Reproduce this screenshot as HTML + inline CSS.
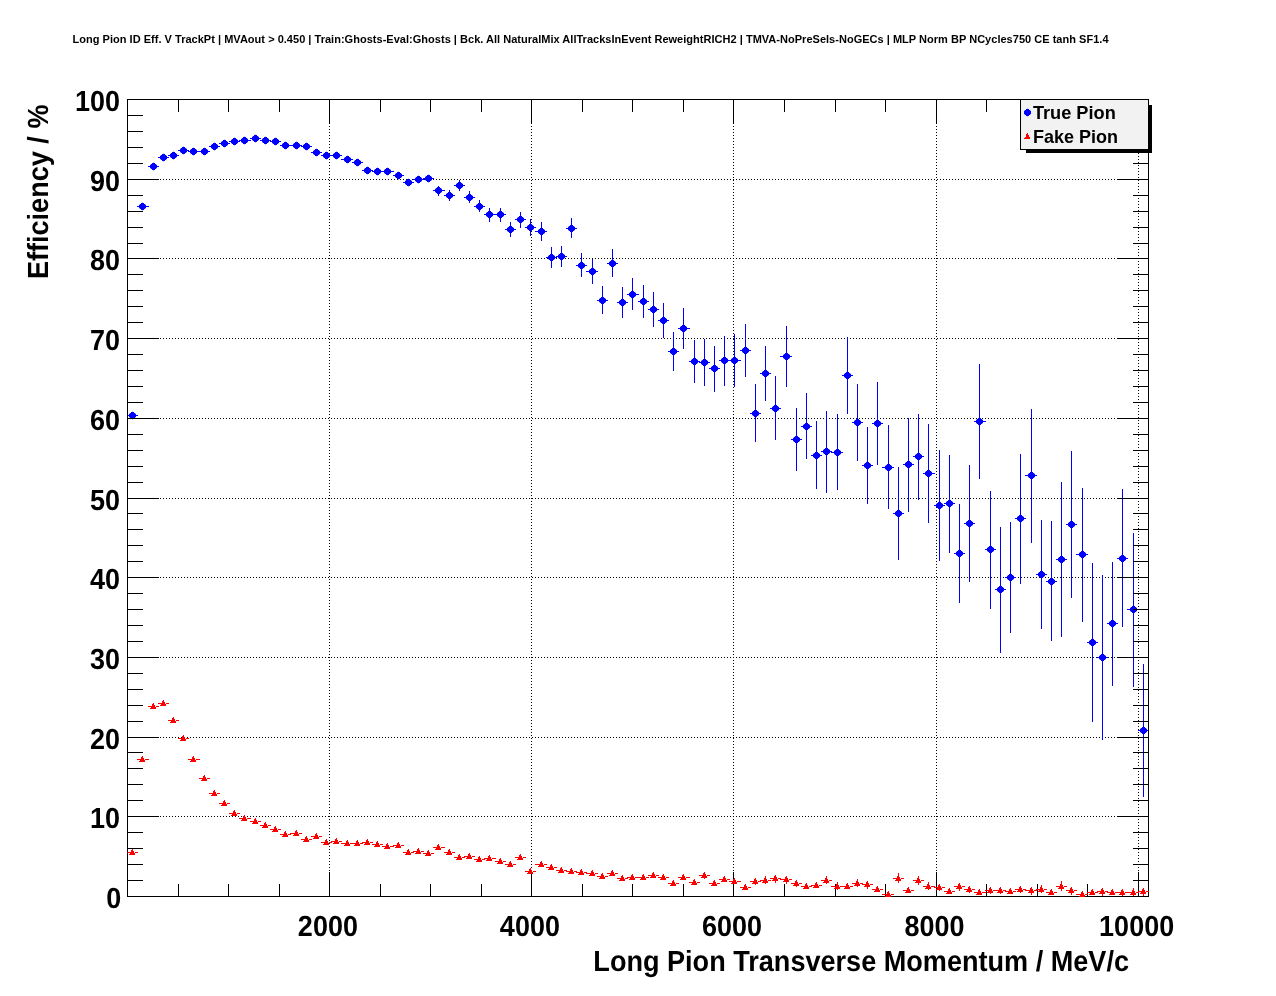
<!DOCTYPE html>
<html lang="en"><head><meta charset="utf-8"><title>Long Pion ID Eff. V TrackPt</title>
<style>
html,body{margin:0;padding:0;background:#fff;}
body{width:1276px;height:996px;overflow:hidden;font-family:"Liberation Sans",Arial,Helvetica,sans-serif;}
svg{display:block;}
</style></head><body>
<svg width="1276" height="996" viewBox="0 0 1276 996">
<defs>
<g id="mc"><path d="M-1 -3h3v1h-3zM-2 -2h5v1h-5zM-3 -1h7v1h-7zM-3 0h7v1h-7zM-3 1h7v1h-7zM-2 2h5v1h-5zM-1 3h3v1h-3z"/><path d="M0 -4h1v1h-1zM0 4h1v1h-1zM-3 -2h1v1h-1zM3 -2h1v1h-1zM-3 2h1v1h-1zM3 2h1v1h-1z" fill-opacity="0.25"/></g>
<path id="mt" d="M0 -3h1v1h-1zM-1 -2h2v1h-2zM-1 -1h3v1h-3zM-1 0h3v1h-3zM-2 1h5v1h-5zM-3 2h6v1h-6z"/>
</defs>
<rect width="1276" height="996" fill="#fff"/>
<g shape-rendering="crispEdges">
<g id="grid" stroke="#000" stroke-width="1" stroke-dasharray="1 2" fill="none">
<line x1="329.5" y1="99" x2="329.5" y2="896"/>
<line x1="531.5" y1="99" x2="531.5" y2="896"/>
<line x1="733.5" y1="99" x2="733.5" y2="896"/>
<line x1="936.5" y1="99" x2="936.5" y2="896"/>
<line x1="1138.5" y1="99" x2="1138.5" y2="896"/>
<line x1="127" y1="816.5" x2="1148" y2="816.5"/>
<line x1="127" y1="737.5" x2="1148" y2="737.5"/>
<line x1="127" y1="657.5" x2="1148" y2="657.5"/>
<line x1="127" y1="577.5" x2="1148" y2="577.5"/>
<line x1="127" y1="498.5" x2="1148" y2="498.5"/>
<line x1="127" y1="418.5" x2="1148" y2="418.5"/>
<line x1="127" y1="338.5" x2="1148" y2="338.5"/>
<line x1="127" y1="258.5" x2="1148" y2="258.5"/>
<line x1="127" y1="179.5" x2="1148" y2="179.5"/>
</g>
<g id="true" fill="#0000ff">
<rect x="127" y="415" width="11" height="1"/>
<use href="#mc" x="132" y="415"/>
<rect x="137" y="206" width="12" height="1"/>
<use href="#mc" x="142" y="206"/>
<rect x="148" y="166" width="11" height="1"/>
<use href="#mc" x="153" y="166"/>
<rect x="158" y="157" width="11" height="1"/>
<use href="#mc" x="163" y="157"/>
<rect x="168" y="155" width="11" height="1"/>
<use href="#mc" x="173" y="155"/>
<rect x="178" y="150" width="11" height="1"/>
<use href="#mc" x="183" y="150"/>
<rect x="188" y="151" width="12" height="1"/>
<use href="#mc" x="193" y="151"/>
<rect x="199" y="151" width="11" height="1"/>
<use href="#mc" x="204" y="151"/>
<rect x="209" y="146" width="11" height="1"/>
<use href="#mc" x="214" y="146"/>
<rect x="219" y="143" width="11" height="1"/>
<use href="#mc" x="224" y="143"/>
<rect x="229" y="141" width="11" height="1"/>
<use href="#mc" x="234" y="141"/>
<rect x="239" y="140" width="12" height="1"/>
<use href="#mc" x="244" y="140"/>
<rect x="250" y="138" width="11" height="1"/>
<use href="#mc" x="255" y="138"/>
<rect x="260" y="140" width="11" height="1"/>
<use href="#mc" x="265" y="140"/>
<rect x="270" y="141" width="11" height="1"/>
<use href="#mc" x="275" y="141"/>
<rect x="280" y="145" width="11" height="1"/>
<use href="#mc" x="285" y="145"/>
<rect x="290" y="145" width="12" height="1"/>
<use href="#mc" x="296" y="145"/>
<rect x="301" y="146" width="11" height="1"/>
<use href="#mc" x="306" y="146"/>
<rect x="311" y="152" width="11" height="1"/>
<use href="#mc" x="316" y="152"/>
<rect x="321" y="155" width="11" height="1"/>
<use href="#mc" x="326" y="155"/>
<rect x="331" y="155" width="11" height="1"/>
<use href="#mc" x="336" y="155"/>
<rect x="341" y="159" width="12" height="1"/>
<use href="#mc" x="347" y="159"/>
<rect x="352" y="162" width="11" height="1"/>
<use href="#mc" x="357" y="162"/>
<rect x="362" y="170" width="11" height="1"/>
<use href="#mc" x="367" y="170"/>
<rect x="372" y="171" width="11" height="1"/>
<use href="#mc" x="377" y="171"/>
<rect x="382" y="171" width="12" height="1"/>
<use href="#mc" x="387" y="171"/>
<rect x="393" y="175" width="11" height="1"/>
<use href="#mc" x="398" y="175"/>
<rect x="403" y="182" width="11" height="1"/>
<use href="#mc" x="408" y="182"/>
<rect x="413" y="179" width="11" height="1"/>
<use href="#mc" x="418" y="179"/>
<rect x="423" y="178" width="11" height="1"/>
<use href="#mc" x="428" y="178"/>
<rect x="433" y="190" width="12" height="1"/>
<rect x="438" y="186" width="1" height="10"/>
<use href="#mc" x="438" y="190"/>
<rect x="444" y="195" width="11" height="1"/>
<rect x="449" y="190" width="1" height="11"/>
<use href="#mc" x="449" y="195"/>
<rect x="454" y="185" width="11" height="1"/>
<rect x="459" y="180" width="1" height="11"/>
<use href="#mc" x="459" y="185"/>
<rect x="464" y="197" width="11" height="1"/>
<rect x="469" y="191" width="1" height="12"/>
<use href="#mc" x="469" y="197"/>
<rect x="474" y="206" width="11" height="1"/>
<rect x="479" y="200" width="1" height="12"/>
<use href="#mc" x="479" y="206"/>
<rect x="484" y="214" width="12" height="1"/>
<rect x="489" y="208" width="1" height="14"/>
<use href="#mc" x="489" y="214"/>
<rect x="495" y="214" width="11" height="1"/>
<rect x="500" y="208" width="1" height="14"/>
<use href="#mc" x="500" y="214"/>
<rect x="505" y="229" width="11" height="1"/>
<rect x="510" y="222" width="1" height="15"/>
<use href="#mc" x="510" y="229"/>
<rect x="515" y="219" width="11" height="1"/>
<rect x="520" y="212" width="1" height="16"/>
<use href="#mc" x="520" y="219"/>
<rect x="525" y="227" width="11" height="1"/>
<rect x="530" y="219" width="1" height="17"/>
<use href="#mc" x="530" y="227"/>
<rect x="535" y="231" width="12" height="1"/>
<rect x="541" y="222" width="1" height="19"/>
<use href="#mc" x="541" y="231"/>
<rect x="546" y="257" width="11" height="1"/>
<rect x="551" y="247" width="1" height="21"/>
<use href="#mc" x="551" y="257"/>
<rect x="556" y="256" width="11" height="1"/>
<rect x="561" y="246" width="1" height="21"/>
<use href="#mc" x="561" y="256"/>
<rect x="566" y="228" width="11" height="1"/>
<rect x="571" y="218" width="1" height="20"/>
<use href="#mc" x="571" y="228"/>
<rect x="576" y="265" width="11" height="1"/>
<rect x="581" y="253" width="1" height="24"/>
<use href="#mc" x="581" y="265"/>
<rect x="586" y="271" width="12" height="1"/>
<rect x="592" y="259" width="1" height="25"/>
<use href="#mc" x="592" y="271"/>
<rect x="597" y="300" width="11" height="1"/>
<rect x="602" y="286" width="1" height="28"/>
<use href="#mc" x="602" y="300"/>
<rect x="607" y="263" width="11" height="1"/>
<rect x="612" y="249" width="1" height="28"/>
<use href="#mc" x="612" y="263"/>
<rect x="617" y="302" width="11" height="1"/>
<rect x="622" y="287" width="1" height="31"/>
<use href="#mc" x="622" y="302"/>
<rect x="627" y="294" width="12" height="1"/>
<rect x="632" y="278" width="1" height="32"/>
<use href="#mc" x="632" y="294"/>
<rect x="638" y="301" width="11" height="1"/>
<rect x="643" y="285" width="1" height="33"/>
<use href="#mc" x="643" y="301"/>
<rect x="648" y="309" width="11" height="1"/>
<rect x="653" y="292" width="1" height="35"/>
<use href="#mc" x="653" y="309"/>
<rect x="658" y="320" width="11" height="1"/>
<rect x="663" y="303" width="1" height="35"/>
<use href="#mc" x="663" y="320"/>
<rect x="668" y="351" width="11" height="1"/>
<rect x="673" y="332" width="1" height="39"/>
<use href="#mc" x="673" y="351"/>
<rect x="678" y="328" width="12" height="1"/>
<rect x="683" y="308" width="1" height="41"/>
<use href="#mc" x="683" y="328"/>
<rect x="689" y="361" width="11" height="1"/>
<rect x="694" y="340" width="1" height="43"/>
<use href="#mc" x="694" y="361"/>
<rect x="699" y="362" width="11" height="1"/>
<rect x="704" y="339" width="1" height="47"/>
<use href="#mc" x="704" y="362"/>
<rect x="709" y="368" width="11" height="1"/>
<rect x="714" y="346" width="1" height="46"/>
<use href="#mc" x="714" y="368"/>
<rect x="719" y="360" width="11" height="1"/>
<rect x="724" y="336" width="1" height="50"/>
<use href="#mc" x="724" y="360"/>
<rect x="729" y="360" width="12" height="1"/>
<rect x="734" y="334" width="1" height="53"/>
<use href="#mc" x="734" y="360"/>
<rect x="740" y="350" width="11" height="1"/>
<rect x="745" y="324" width="1" height="53"/>
<use href="#mc" x="745" y="350"/>
<rect x="750" y="413" width="11" height="1"/>
<rect x="755" y="384" width="1" height="58"/>
<use href="#mc" x="755" y="413"/>
<rect x="760" y="373" width="11" height="1"/>
<rect x="765" y="346" width="1" height="55"/>
<use href="#mc" x="765" y="373"/>
<rect x="770" y="408" width="11" height="1"/>
<rect x="775" y="376" width="1" height="64"/>
<use href="#mc" x="775" y="408"/>
<rect x="780" y="356" width="12" height="1"/>
<rect x="786" y="326" width="1" height="61"/>
<use href="#mc" x="786" y="356"/>
<rect x="791" y="439" width="11" height="1"/>
<rect x="796" y="408" width="1" height="63"/>
<use href="#mc" x="796" y="439"/>
<rect x="801" y="426" width="11" height="1"/>
<rect x="806" y="393" width="1" height="66"/>
<use href="#mc" x="806" y="426"/>
<rect x="811" y="455" width="11" height="1"/>
<rect x="816" y="421" width="1" height="68"/>
<use href="#mc" x="816" y="455"/>
<rect x="821" y="451" width="11" height="1"/>
<rect x="826" y="411" width="1" height="82"/>
<use href="#mc" x="826" y="451"/>
<rect x="831" y="452" width="12" height="1"/>
<rect x="837" y="414" width="1" height="76"/>
<use href="#mc" x="837" y="452"/>
<rect x="842" y="375" width="11" height="1"/>
<rect x="847" y="337" width="1" height="77"/>
<use href="#mc" x="847" y="375"/>
<rect x="852" y="422" width="11" height="1"/>
<rect x="857" y="384" width="1" height="77"/>
<use href="#mc" x="857" y="422"/>
<rect x="862" y="465" width="11" height="1"/>
<rect x="867" y="427" width="1" height="77"/>
<use href="#mc" x="867" y="465"/>
<rect x="872" y="423" width="11" height="1"/>
<rect x="877" y="382" width="1" height="83"/>
<use href="#mc" x="877" y="423"/>
<rect x="882" y="467" width="12" height="1"/>
<rect x="888" y="425" width="1" height="84"/>
<use href="#mc" x="888" y="467"/>
<rect x="893" y="513" width="11" height="1"/>
<rect x="898" y="467" width="1" height="93"/>
<use href="#mc" x="898" y="513"/>
<rect x="903" y="464" width="11" height="1"/>
<rect x="908" y="418" width="1" height="94"/>
<use href="#mc" x="908" y="464"/>
<rect x="913" y="456" width="11" height="1"/>
<rect x="918" y="414" width="1" height="86"/>
<use href="#mc" x="918" y="456"/>
<rect x="923" y="473" width="12" height="1"/>
<rect x="928" y="424" width="1" height="99"/>
<use href="#mc" x="928" y="473"/>
<rect x="934" y="505" width="11" height="1"/>
<rect x="939" y="450" width="1" height="111"/>
<use href="#mc" x="939" y="505"/>
<rect x="944" y="503" width="11" height="1"/>
<rect x="949" y="455" width="1" height="98"/>
<use href="#mc" x="949" y="503"/>
<rect x="954" y="553" width="11" height="1"/>
<rect x="959" y="504" width="1" height="99"/>
<use href="#mc" x="959" y="553"/>
<rect x="964" y="523" width="11" height="1"/>
<rect x="969" y="465" width="1" height="117"/>
<use href="#mc" x="969" y="523"/>
<rect x="974" y="421" width="12" height="1"/>
<rect x="979" y="364" width="1" height="115"/>
<use href="#mc" x="979" y="421"/>
<rect x="985" y="549" width="11" height="1"/>
<rect x="990" y="491" width="1" height="118"/>
<use href="#mc" x="990" y="549"/>
<rect x="995" y="589" width="11" height="1"/>
<rect x="1000" y="527" width="1" height="126"/>
<use href="#mc" x="1000" y="589"/>
<rect x="1005" y="577" width="11" height="1"/>
<rect x="1010" y="522" width="1" height="111"/>
<use href="#mc" x="1010" y="577"/>
<rect x="1015" y="518" width="11" height="1"/>
<rect x="1020" y="454" width="1" height="130"/>
<use href="#mc" x="1020" y="518"/>
<rect x="1025" y="475" width="12" height="1"/>
<rect x="1031" y="409" width="1" height="134"/>
<use href="#mc" x="1031" y="475"/>
<rect x="1036" y="574" width="11" height="1"/>
<rect x="1041" y="520" width="1" height="109"/>
<use href="#mc" x="1041" y="574"/>
<rect x="1046" y="581" width="11" height="1"/>
<rect x="1051" y="521" width="1" height="120"/>
<use href="#mc" x="1051" y="581"/>
<rect x="1056" y="559" width="11" height="1"/>
<rect x="1061" y="482" width="1" height="155"/>
<use href="#mc" x="1061" y="559"/>
<rect x="1066" y="524" width="11" height="1"/>
<rect x="1071" y="451" width="1" height="147"/>
<use href="#mc" x="1071" y="524"/>
<rect x="1076" y="554" width="12" height="1"/>
<rect x="1082" y="488" width="1" height="134"/>
<use href="#mc" x="1082" y="554"/>
<rect x="1087" y="642" width="11" height="1"/>
<rect x="1092" y="563" width="1" height="159"/>
<use href="#mc" x="1092" y="642"/>
<rect x="1097" y="657" width="11" height="1"/>
<rect x="1102" y="575" width="1" height="165"/>
<use href="#mc" x="1102" y="657"/>
<rect x="1107" y="623" width="11" height="1"/>
<rect x="1112" y="562" width="1" height="124"/>
<use href="#mc" x="1112" y="623"/>
<rect x="1117" y="558" width="11" height="1"/>
<rect x="1122" y="489" width="1" height="138"/>
<use href="#mc" x="1122" y="558"/>
<rect x="1127" y="609" width="12" height="1"/>
<rect x="1133" y="533" width="1" height="154"/>
<use href="#mc" x="1133" y="609"/>
<rect x="1138" y="730" width="11" height="1"/>
<rect x="1143" y="664" width="1" height="133"/>
<use href="#mc" x="1143" y="730"/>
</g>
<g id="axes" fill="#000">
<rect x="127" y="99" width="1022" height="1"/>
<rect x="127" y="896" width="1022" height="1"/>
<rect x="127" y="99" width="1" height="798"/>
<rect x="1148" y="99" width="1" height="798"/>
<rect x="178" y="884" width="1" height="13"/>
<rect x="178" y="99" width="1" height="13"/>
<rect x="228" y="884" width="1" height="13"/>
<rect x="228" y="99" width="1" height="13"/>
<rect x="279" y="884" width="1" height="13"/>
<rect x="279" y="99" width="1" height="13"/>
<rect x="329" y="872" width="1" height="25"/>
<rect x="329" y="99" width="1" height="25"/>
<rect x="380" y="884" width="1" height="13"/>
<rect x="380" y="99" width="1" height="13"/>
<rect x="430" y="884" width="1" height="13"/>
<rect x="430" y="99" width="1" height="13"/>
<rect x="481" y="884" width="1" height="13"/>
<rect x="481" y="99" width="1" height="13"/>
<rect x="531" y="872" width="1" height="25"/>
<rect x="531" y="99" width="1" height="25"/>
<rect x="582" y="884" width="1" height="13"/>
<rect x="582" y="99" width="1" height="13"/>
<rect x="632" y="884" width="1" height="13"/>
<rect x="632" y="99" width="1" height="13"/>
<rect x="683" y="884" width="1" height="13"/>
<rect x="683" y="99" width="1" height="13"/>
<rect x="733" y="872" width="1" height="25"/>
<rect x="733" y="99" width="1" height="25"/>
<rect x="784" y="884" width="1" height="13"/>
<rect x="784" y="99" width="1" height="13"/>
<rect x="835" y="884" width="1" height="13"/>
<rect x="835" y="99" width="1" height="13"/>
<rect x="885" y="884" width="1" height="13"/>
<rect x="885" y="99" width="1" height="13"/>
<rect x="936" y="872" width="1" height="25"/>
<rect x="936" y="99" width="1" height="25"/>
<rect x="986" y="884" width="1" height="13"/>
<rect x="986" y="99" width="1" height="13"/>
<rect x="1037" y="884" width="1" height="13"/>
<rect x="1037" y="99" width="1" height="13"/>
<rect x="1087" y="884" width="1" height="13"/>
<rect x="1087" y="99" width="1" height="13"/>
<rect x="1138" y="872" width="1" height="25"/>
<rect x="1138" y="99" width="1" height="25"/>
<rect x="127" y="896" width="32" height="1"/>
<rect x="1117" y="896" width="32" height="1"/>
<rect x="127" y="880" width="16" height="1"/>
<rect x="1133" y="880" width="16" height="1"/>
<rect x="127" y="864" width="16" height="1"/>
<rect x="1133" y="864" width="16" height="1"/>
<rect x="127" y="848" width="16" height="1"/>
<rect x="1133" y="848" width="16" height="1"/>
<rect x="127" y="832" width="16" height="1"/>
<rect x="1133" y="832" width="16" height="1"/>
<rect x="127" y="816" width="32" height="1"/>
<rect x="1117" y="816" width="32" height="1"/>
<rect x="127" y="800" width="16" height="1"/>
<rect x="1133" y="800" width="16" height="1"/>
<rect x="127" y="784" width="16" height="1"/>
<rect x="1133" y="784" width="16" height="1"/>
<rect x="127" y="768" width="16" height="1"/>
<rect x="1133" y="768" width="16" height="1"/>
<rect x="127" y="752" width="16" height="1"/>
<rect x="1133" y="752" width="16" height="1"/>
<rect x="127" y="737" width="32" height="1"/>
<rect x="1117" y="737" width="32" height="1"/>
<rect x="127" y="721" width="16" height="1"/>
<rect x="1133" y="721" width="16" height="1"/>
<rect x="127" y="705" width="16" height="1"/>
<rect x="1133" y="705" width="16" height="1"/>
<rect x="127" y="689" width="16" height="1"/>
<rect x="1133" y="689" width="16" height="1"/>
<rect x="127" y="673" width="16" height="1"/>
<rect x="1133" y="673" width="16" height="1"/>
<rect x="127" y="657" width="32" height="1"/>
<rect x="1117" y="657" width="32" height="1"/>
<rect x="127" y="641" width="16" height="1"/>
<rect x="1133" y="641" width="16" height="1"/>
<rect x="127" y="625" width="16" height="1"/>
<rect x="1133" y="625" width="16" height="1"/>
<rect x="127" y="609" width="16" height="1"/>
<rect x="1133" y="609" width="16" height="1"/>
<rect x="127" y="593" width="16" height="1"/>
<rect x="1133" y="593" width="16" height="1"/>
<rect x="127" y="577" width="32" height="1"/>
<rect x="1117" y="577" width="32" height="1"/>
<rect x="127" y="561" width="16" height="1"/>
<rect x="1133" y="561" width="16" height="1"/>
<rect x="127" y="545" width="16" height="1"/>
<rect x="1133" y="545" width="16" height="1"/>
<rect x="127" y="529" width="16" height="1"/>
<rect x="1133" y="529" width="16" height="1"/>
<rect x="127" y="513" width="16" height="1"/>
<rect x="1133" y="513" width="16" height="1"/>
<rect x="127" y="498" width="32" height="1"/>
<rect x="1117" y="498" width="32" height="1"/>
<rect x="127" y="482" width="16" height="1"/>
<rect x="1133" y="482" width="16" height="1"/>
<rect x="127" y="466" width="16" height="1"/>
<rect x="1133" y="466" width="16" height="1"/>
<rect x="127" y="450" width="16" height="1"/>
<rect x="1133" y="450" width="16" height="1"/>
<rect x="127" y="434" width="16" height="1"/>
<rect x="1133" y="434" width="16" height="1"/>
<rect x="127" y="418" width="32" height="1"/>
<rect x="1117" y="418" width="32" height="1"/>
<rect x="127" y="402" width="16" height="1"/>
<rect x="1133" y="402" width="16" height="1"/>
<rect x="127" y="386" width="16" height="1"/>
<rect x="1133" y="386" width="16" height="1"/>
<rect x="127" y="370" width="16" height="1"/>
<rect x="1133" y="370" width="16" height="1"/>
<rect x="127" y="354" width="16" height="1"/>
<rect x="1133" y="354" width="16" height="1"/>
<rect x="127" y="338" width="32" height="1"/>
<rect x="1117" y="338" width="32" height="1"/>
<rect x="127" y="322" width="16" height="1"/>
<rect x="1133" y="322" width="16" height="1"/>
<rect x="127" y="306" width="16" height="1"/>
<rect x="1133" y="306" width="16" height="1"/>
<rect x="127" y="290" width="16" height="1"/>
<rect x="1133" y="290" width="16" height="1"/>
<rect x="127" y="274" width="16" height="1"/>
<rect x="1133" y="274" width="16" height="1"/>
<rect x="127" y="258" width="32" height="1"/>
<rect x="1117" y="258" width="32" height="1"/>
<rect x="127" y="243" width="16" height="1"/>
<rect x="1133" y="243" width="16" height="1"/>
<rect x="127" y="227" width="16" height="1"/>
<rect x="1133" y="227" width="16" height="1"/>
<rect x="127" y="211" width="16" height="1"/>
<rect x="1133" y="211" width="16" height="1"/>
<rect x="127" y="195" width="16" height="1"/>
<rect x="1133" y="195" width="16" height="1"/>
<rect x="127" y="179" width="32" height="1"/>
<rect x="1117" y="179" width="32" height="1"/>
<rect x="127" y="163" width="16" height="1"/>
<rect x="1133" y="163" width="16" height="1"/>
<rect x="127" y="147" width="16" height="1"/>
<rect x="1133" y="147" width="16" height="1"/>
<rect x="127" y="131" width="16" height="1"/>
<rect x="1133" y="131" width="16" height="1"/>
<rect x="127" y="115" width="16" height="1"/>
<rect x="1133" y="115" width="16" height="1"/>
<rect x="127" y="99" width="32" height="1"/>
<rect x="1117" y="99" width="32" height="1"/>
</g>
<g id="fake" fill="#ff0000">
<rect x="127" y="852" width="7" height="1"/>
<rect x="135" y="852" width="3" height="1"/>
<use href="#mt" x="132" y="852"/>
<rect x="137" y="759" width="7" height="1"/>
<rect x="145" y="759" width="4" height="1"/>
<use href="#mt" x="142" y="759"/>
<rect x="148" y="706" width="7" height="1"/>
<rect x="156" y="706" width="3" height="1"/>
<use href="#mt" x="153" y="706"/>
<rect x="158" y="703" width="7" height="1"/>
<rect x="166" y="703" width="3" height="1"/>
<use href="#mt" x="163" y="703"/>
<rect x="168" y="720" width="7" height="1"/>
<rect x="176" y="720" width="3" height="1"/>
<use href="#mt" x="173" y="720"/>
<rect x="178" y="738" width="7" height="1"/>
<rect x="186" y="738" width="3" height="1"/>
<use href="#mt" x="183" y="738"/>
<rect x="188" y="759" width="7" height="1"/>
<rect x="196" y="759" width="4" height="1"/>
<use href="#mt" x="193" y="759"/>
<rect x="199" y="778" width="7" height="1"/>
<rect x="207" y="778" width="3" height="1"/>
<use href="#mt" x="204" y="778"/>
<rect x="209" y="793" width="7" height="1"/>
<rect x="217" y="793" width="3" height="1"/>
<use href="#mt" x="214" y="793"/>
<rect x="219" y="803" width="7" height="1"/>
<rect x="227" y="803" width="3" height="1"/>
<use href="#mt" x="224" y="803"/>
<rect x="229" y="813" width="7" height="1"/>
<rect x="237" y="813" width="3" height="1"/>
<use href="#mt" x="234" y="813"/>
<rect x="239" y="818" width="7" height="1"/>
<rect x="247" y="818" width="4" height="1"/>
<use href="#mt" x="244" y="818"/>
<rect x="250" y="821" width="7" height="1"/>
<rect x="258" y="821" width="3" height="1"/>
<use href="#mt" x="255" y="821"/>
<rect x="260" y="825" width="7" height="1"/>
<rect x="268" y="825" width="3" height="1"/>
<use href="#mt" x="265" y="825"/>
<rect x="270" y="829" width="7" height="1"/>
<rect x="278" y="829" width="3" height="1"/>
<use href="#mt" x="275" y="829"/>
<rect x="280" y="834" width="7" height="1"/>
<rect x="288" y="834" width="3" height="1"/>
<use href="#mt" x="285" y="834"/>
<rect x="290" y="833" width="8" height="1"/>
<rect x="299" y="833" width="3" height="1"/>
<use href="#mt" x="296" y="833"/>
<rect x="301" y="839" width="7" height="1"/>
<rect x="309" y="839" width="3" height="1"/>
<use href="#mt" x="306" y="839"/>
<rect x="311" y="836" width="7" height="1"/>
<rect x="319" y="836" width="3" height="1"/>
<use href="#mt" x="316" y="836"/>
<rect x="321" y="842" width="7" height="1"/>
<rect x="329" y="842" width="3" height="1"/>
<use href="#mt" x="326" y="842"/>
<rect x="331" y="841" width="7" height="1"/>
<rect x="339" y="841" width="3" height="1"/>
<use href="#mt" x="336" y="841"/>
<rect x="341" y="843" width="8" height="1"/>
<rect x="350" y="843" width="3" height="1"/>
<use href="#mt" x="347" y="843"/>
<rect x="352" y="843" width="7" height="1"/>
<rect x="360" y="843" width="3" height="1"/>
<use href="#mt" x="357" y="843"/>
<rect x="362" y="842" width="7" height="1"/>
<rect x="370" y="842" width="3" height="1"/>
<use href="#mt" x="367" y="842"/>
<rect x="372" y="844" width="7" height="1"/>
<rect x="380" y="844" width="3" height="1"/>
<use href="#mt" x="377" y="844"/>
<rect x="382" y="846" width="7" height="1"/>
<rect x="390" y="846" width="4" height="1"/>
<use href="#mt" x="387" y="846"/>
<rect x="393" y="845" width="7" height="1"/>
<rect x="401" y="845" width="3" height="1"/>
<use href="#mt" x="398" y="845"/>
<rect x="403" y="852" width="7" height="1"/>
<rect x="411" y="852" width="3" height="1"/>
<use href="#mt" x="408" y="852"/>
<rect x="413" y="851" width="7" height="1"/>
<rect x="421" y="851" width="3" height="1"/>
<use href="#mt" x="418" y="851"/>
<rect x="423" y="853" width="7" height="1"/>
<rect x="431" y="853" width="3" height="1"/>
<use href="#mt" x="428" y="853"/>
<rect x="433" y="847" width="7" height="1"/>
<rect x="441" y="847" width="4" height="1"/>
<use href="#mt" x="438" y="847"/>
<rect x="444" y="852" width="7" height="1"/>
<rect x="452" y="852" width="3" height="1"/>
<use href="#mt" x="449" y="852"/>
<rect x="454" y="857" width="7" height="1"/>
<rect x="462" y="857" width="3" height="1"/>
<use href="#mt" x="459" y="857"/>
<rect x="464" y="856" width="7" height="1"/>
<rect x="472" y="856" width="3" height="1"/>
<use href="#mt" x="469" y="856"/>
<rect x="474" y="859" width="7" height="1"/>
<rect x="482" y="859" width="3" height="1"/>
<use href="#mt" x="479" y="859"/>
<rect x="484" y="858" width="7" height="1"/>
<rect x="492" y="858" width="4" height="1"/>
<use href="#mt" x="489" y="858"/>
<rect x="495" y="861" width="7" height="1"/>
<rect x="503" y="861" width="3" height="1"/>
<use href="#mt" x="500" y="861"/>
<rect x="505" y="864" width="7" height="1"/>
<rect x="513" y="864" width="3" height="1"/>
<use href="#mt" x="510" y="864"/>
<rect x="515" y="857" width="7" height="1"/>
<rect x="523" y="857" width="3" height="1"/>
<use href="#mt" x="520" y="857"/>
<rect x="525" y="871" width="7" height="1"/>
<rect x="533" y="871" width="3" height="1"/>
<use href="#mt" x="530" y="871"/>
<rect x="535" y="864" width="8" height="1"/>
<rect x="544" y="864" width="3" height="1"/>
<use href="#mt" x="541" y="864"/>
<rect x="546" y="867" width="7" height="1"/>
<rect x="554" y="867" width="3" height="1"/>
<use href="#mt" x="551" y="867"/>
<rect x="556" y="870" width="7" height="1"/>
<rect x="564" y="870" width="3" height="1"/>
<use href="#mt" x="561" y="870"/>
<rect x="566" y="871" width="7" height="1"/>
<rect x="574" y="871" width="3" height="1"/>
<use href="#mt" x="571" y="871"/>
<rect x="576" y="872" width="7" height="1"/>
<rect x="584" y="872" width="3" height="1"/>
<use href="#mt" x="581" y="872"/>
<rect x="586" y="873" width="8" height="1"/>
<rect x="595" y="873" width="3" height="1"/>
<use href="#mt" x="592" y="873"/>
<rect x="597" y="876" width="7" height="1"/>
<rect x="605" y="876" width="3" height="1"/>
<use href="#mt" x="602" y="876"/>
<rect x="607" y="873" width="7" height="1"/>
<rect x="615" y="873" width="3" height="1"/>
<use href="#mt" x="612" y="873"/>
<rect x="617" y="878" width="7" height="1"/>
<rect x="625" y="878" width="3" height="1"/>
<use href="#mt" x="622" y="878"/>
<rect x="627" y="877" width="7" height="1"/>
<rect x="635" y="877" width="4" height="1"/>
<use href="#mt" x="632" y="877"/>
<rect x="638" y="877" width="7" height="1"/>
<rect x="646" y="877" width="3" height="1"/>
<use href="#mt" x="643" y="877"/>
<rect x="648" y="875" width="7" height="1"/>
<rect x="656" y="875" width="3" height="1"/>
<use href="#mt" x="653" y="875"/>
<rect x="658" y="877" width="7" height="1"/>
<rect x="666" y="877" width="3" height="1"/>
<use href="#mt" x="663" y="877"/>
<rect x="668" y="883" width="7" height="1"/>
<rect x="676" y="883" width="3" height="1"/>
<use href="#mt" x="673" y="883"/>
<rect x="678" y="877" width="7" height="1"/>
<rect x="686" y="877" width="4" height="1"/>
<use href="#mt" x="683" y="877"/>
<rect x="689" y="882" width="7" height="1"/>
<rect x="697" y="882" width="3" height="1"/>
<use href="#mt" x="694" y="882"/>
<rect x="699" y="875" width="7" height="1"/>
<rect x="707" y="875" width="3" height="1"/>
<rect x="704" y="872" width="1" height="7"/>
<use href="#mt" x="704" y="875"/>
<rect x="709" y="883" width="7" height="1"/>
<rect x="717" y="883" width="3" height="1"/>
<use href="#mt" x="714" y="883"/>
<rect x="719" y="879" width="7" height="1"/>
<rect x="727" y="879" width="3" height="1"/>
<use href="#mt" x="724" y="879"/>
<rect x="729" y="881" width="7" height="1"/>
<rect x="737" y="881" width="4" height="1"/>
<use href="#mt" x="734" y="881"/>
<rect x="740" y="887" width="7" height="1"/>
<rect x="748" y="887" width="3" height="1"/>
<use href="#mt" x="745" y="887"/>
<rect x="750" y="881" width="7" height="1"/>
<rect x="758" y="881" width="3" height="1"/>
<rect x="755" y="878" width="1" height="7"/>
<use href="#mt" x="755" y="881"/>
<rect x="760" y="880" width="7" height="1"/>
<rect x="768" y="880" width="3" height="1"/>
<rect x="765" y="876" width="1" height="8"/>
<use href="#mt" x="765" y="880"/>
<rect x="770" y="878" width="7" height="1"/>
<rect x="778" y="878" width="3" height="1"/>
<rect x="775" y="875" width="1" height="8"/>
<use href="#mt" x="775" y="878"/>
<rect x="780" y="879" width="8" height="1"/>
<rect x="789" y="879" width="3" height="1"/>
<rect x="786" y="876" width="1" height="8"/>
<use href="#mt" x="786" y="879"/>
<rect x="791" y="883" width="7" height="1"/>
<rect x="799" y="883" width="3" height="1"/>
<rect x="796" y="880" width="1" height="7"/>
<use href="#mt" x="796" y="883"/>
<rect x="801" y="886" width="7" height="1"/>
<rect x="809" y="886" width="3" height="1"/>
<use href="#mt" x="806" y="886"/>
<rect x="811" y="885" width="7" height="1"/>
<rect x="819" y="885" width="3" height="1"/>
<use href="#mt" x="816" y="885"/>
<rect x="821" y="880" width="7" height="1"/>
<rect x="829" y="880" width="3" height="1"/>
<rect x="826" y="876" width="1" height="8"/>
<use href="#mt" x="826" y="880"/>
<rect x="831" y="886" width="8" height="1"/>
<rect x="840" y="886" width="3" height="1"/>
<rect x="837" y="882" width="1" height="8"/>
<use href="#mt" x="837" y="886"/>
<rect x="842" y="886" width="7" height="1"/>
<rect x="850" y="886" width="3" height="1"/>
<use href="#mt" x="847" y="886"/>
<rect x="852" y="883" width="7" height="1"/>
<rect x="860" y="883" width="3" height="1"/>
<rect x="857" y="879" width="1" height="8"/>
<use href="#mt" x="857" y="883"/>
<rect x="862" y="884" width="7" height="1"/>
<rect x="870" y="884" width="3" height="1"/>
<rect x="867" y="881" width="1" height="8"/>
<use href="#mt" x="867" y="884"/>
<rect x="872" y="889" width="7" height="1"/>
<rect x="880" y="889" width="3" height="1"/>
<use href="#mt" x="877" y="889"/>
<rect x="882" y="894" width="8" height="1"/>
<rect x="891" y="894" width="3" height="1"/>
<use href="#mt" x="888" y="894"/>
<rect x="893" y="878" width="7" height="1"/>
<rect x="901" y="878" width="3" height="1"/>
<rect x="898" y="873" width="1" height="10"/>
<use href="#mt" x="898" y="878"/>
<rect x="903" y="890" width="7" height="1"/>
<rect x="911" y="890" width="3" height="1"/>
<use href="#mt" x="908" y="890"/>
<rect x="913" y="880" width="7" height="1"/>
<rect x="921" y="880" width="3" height="1"/>
<rect x="918" y="876" width="1" height="9"/>
<use href="#mt" x="918" y="880"/>
<rect x="923" y="886" width="7" height="1"/>
<rect x="931" y="886" width="4" height="1"/>
<rect x="928" y="882" width="1" height="8"/>
<use href="#mt" x="928" y="886"/>
<rect x="934" y="887" width="7" height="1"/>
<rect x="942" y="887" width="3" height="1"/>
<rect x="939" y="884" width="1" height="7"/>
<use href="#mt" x="939" y="887"/>
<rect x="944" y="891" width="7" height="1"/>
<rect x="952" y="891" width="3" height="1"/>
<use href="#mt" x="949" y="891"/>
<rect x="954" y="886" width="7" height="1"/>
<rect x="962" y="886" width="3" height="1"/>
<rect x="959" y="883" width="1" height="8"/>
<use href="#mt" x="959" y="886"/>
<rect x="964" y="889" width="7" height="1"/>
<rect x="972" y="889" width="3" height="1"/>
<rect x="969" y="886" width="1" height="7"/>
<use href="#mt" x="969" y="889"/>
<rect x="974" y="892" width="7" height="1"/>
<rect x="982" y="892" width="4" height="1"/>
<use href="#mt" x="979" y="892"/>
<rect x="985" y="890" width="7" height="1"/>
<rect x="993" y="890" width="3" height="1"/>
<rect x="990" y="887" width="1" height="7"/>
<use href="#mt" x="990" y="890"/>
<rect x="995" y="890" width="7" height="1"/>
<rect x="1003" y="890" width="3" height="1"/>
<rect x="1000" y="887" width="1" height="7"/>
<use href="#mt" x="1000" y="890"/>
<rect x="1005" y="891" width="7" height="1"/>
<rect x="1013" y="891" width="3" height="1"/>
<use href="#mt" x="1010" y="891"/>
<rect x="1015" y="889" width="7" height="1"/>
<rect x="1023" y="889" width="3" height="1"/>
<rect x="1020" y="886" width="1" height="7"/>
<use href="#mt" x="1020" y="889"/>
<rect x="1025" y="890" width="8" height="1"/>
<rect x="1034" y="890" width="3" height="1"/>
<rect x="1031" y="887" width="1" height="8"/>
<use href="#mt" x="1031" y="890"/>
<rect x="1036" y="889" width="7" height="1"/>
<rect x="1044" y="889" width="3" height="1"/>
<rect x="1041" y="885" width="1" height="8"/>
<use href="#mt" x="1041" y="889"/>
<rect x="1046" y="892" width="7" height="1"/>
<rect x="1054" y="892" width="3" height="1"/>
<use href="#mt" x="1051" y="892"/>
<rect x="1056" y="886" width="7" height="1"/>
<rect x="1064" y="886" width="3" height="1"/>
<rect x="1061" y="881" width="1" height="10"/>
<use href="#mt" x="1061" y="886"/>
<rect x="1066" y="890" width="7" height="1"/>
<rect x="1074" y="890" width="3" height="1"/>
<rect x="1071" y="887" width="1" height="8"/>
<use href="#mt" x="1071" y="890"/>
<rect x="1076" y="894" width="8" height="1"/>
<rect x="1085" y="894" width="3" height="1"/>
<use href="#mt" x="1082" y="894"/>
<rect x="1087" y="892" width="7" height="1"/>
<rect x="1095" y="892" width="3" height="1"/>
<use href="#mt" x="1092" y="892"/>
<rect x="1097" y="891" width="7" height="1"/>
<rect x="1105" y="891" width="3" height="1"/>
<rect x="1102" y="888" width="1" height="8"/>
<use href="#mt" x="1102" y="891"/>
<rect x="1107" y="892" width="7" height="1"/>
<rect x="1115" y="892" width="3" height="1"/>
<use href="#mt" x="1112" y="892"/>
<rect x="1117" y="892" width="7" height="1"/>
<rect x="1125" y="892" width="3" height="1"/>
<rect x="1122" y="889" width="1" height="7"/>
<use href="#mt" x="1122" y="892"/>
<rect x="1127" y="892" width="8" height="1"/>
<rect x="1136" y="892" width="3" height="1"/>
<rect x="1133" y="888" width="1" height="8"/>
<use href="#mt" x="1133" y="892"/>
<rect x="1138" y="891" width="7" height="1"/>
<rect x="1146" y="891" width="3" height="1"/>
<rect x="1143" y="888" width="1" height="8"/>
<use href="#mt" x="1143" y="891"/>
</g>
<g id="legend" fill="#000">
<rect x="1026" y="150" width="126" height="3"/>
<rect x="1149" y="105" width="3" height="48"/>
<rect x="1020" y="99" width="129" height="51"/>
<rect x="1021" y="100" width="127" height="49" fill="#f2f2f2"/>
<use href="#mc" x="1027" y="112" fill="#0000ff"/>
<use href="#mt" x="1027" y="136" fill="#ff0000"/>
</g>
</g>
<g id="text" fill="#000" font-family="'Liberation Sans', Arial, Helvetica, sans-serif" font-weight="bold">
<text x="72.5" y="43" font-size="11" textLength="1036" lengthAdjust="spacing">Long Pion ID Eff. V TrackPt | MVAout &gt; 0.450 | Train:Ghosts-Eval:Ghosts | Bck. All NaturalMix AllTracksInEvent ReweightRICH2 | TMVA-NoPreSels-NoGECs | MLP Norm BP NCycles750 CE tanh SF1.4</text>
<g id="ylabels" font-size="27" text-anchor="end" text-rendering="geometricPrecision">
<text transform="translate(121.3 908) scale(1 1.08)">0</text>
<text transform="translate(120.0 828) scale(1 1.08)">10</text>
<text transform="translate(120.0 749) scale(1 1.08)">20</text>
<text transform="translate(120.0 669) scale(1 1.08)">30</text>
<text transform="translate(120.0 589) scale(1 1.08)">40</text>
<text transform="translate(120.0 510) scale(1 1.08)">50</text>
<text transform="translate(120.0 430) scale(1 1.08)">60</text>
<text transform="translate(120.0 350) scale(1 1.08)">70</text>
<text transform="translate(120.0 270) scale(1 1.08)">80</text>
<text transform="translate(120.0 191) scale(1 1.08)">90</text>
<text transform="translate(120.0 111) scale(1 1.08)">100</text>
</g>
<g id="xlabels" font-size="27" text-anchor="middle" text-rendering="geometricPrecision">
<text transform="translate(327.9 936) scale(1 1.08)">2000</text>
<text transform="translate(529.9 936) scale(1 1.08)">4000</text>
<text transform="translate(731.95 936) scale(1 1.08)">6000</text>
<text transform="translate(934.6 936) scale(1 1.08)">8000</text>
<text transform="translate(1136.65 936) scale(1 1.08)">10000</text>
</g>
<text transform="translate(1129 971) scale(1 1.075)" font-size="27.08" text-anchor="end" text-rendering="geometricPrecision">Long Pion Transverse Momentum / MeV/c</text>
<text transform="translate(48.2 104.5) rotate(-90) scale(1 1.075)" font-size="27.08" text-anchor="end" text-rendering="geometricPrecision">Efficiency / %</text>
<text x="1032.9" y="119" font-size="18.2">True Pion</text>
<text x="1033" y="142.5" font-size="18.2" textLength="85" lengthAdjust="spacingAndGlyphs">Fake Pion</text>
</g>
</svg>
</body></html>
